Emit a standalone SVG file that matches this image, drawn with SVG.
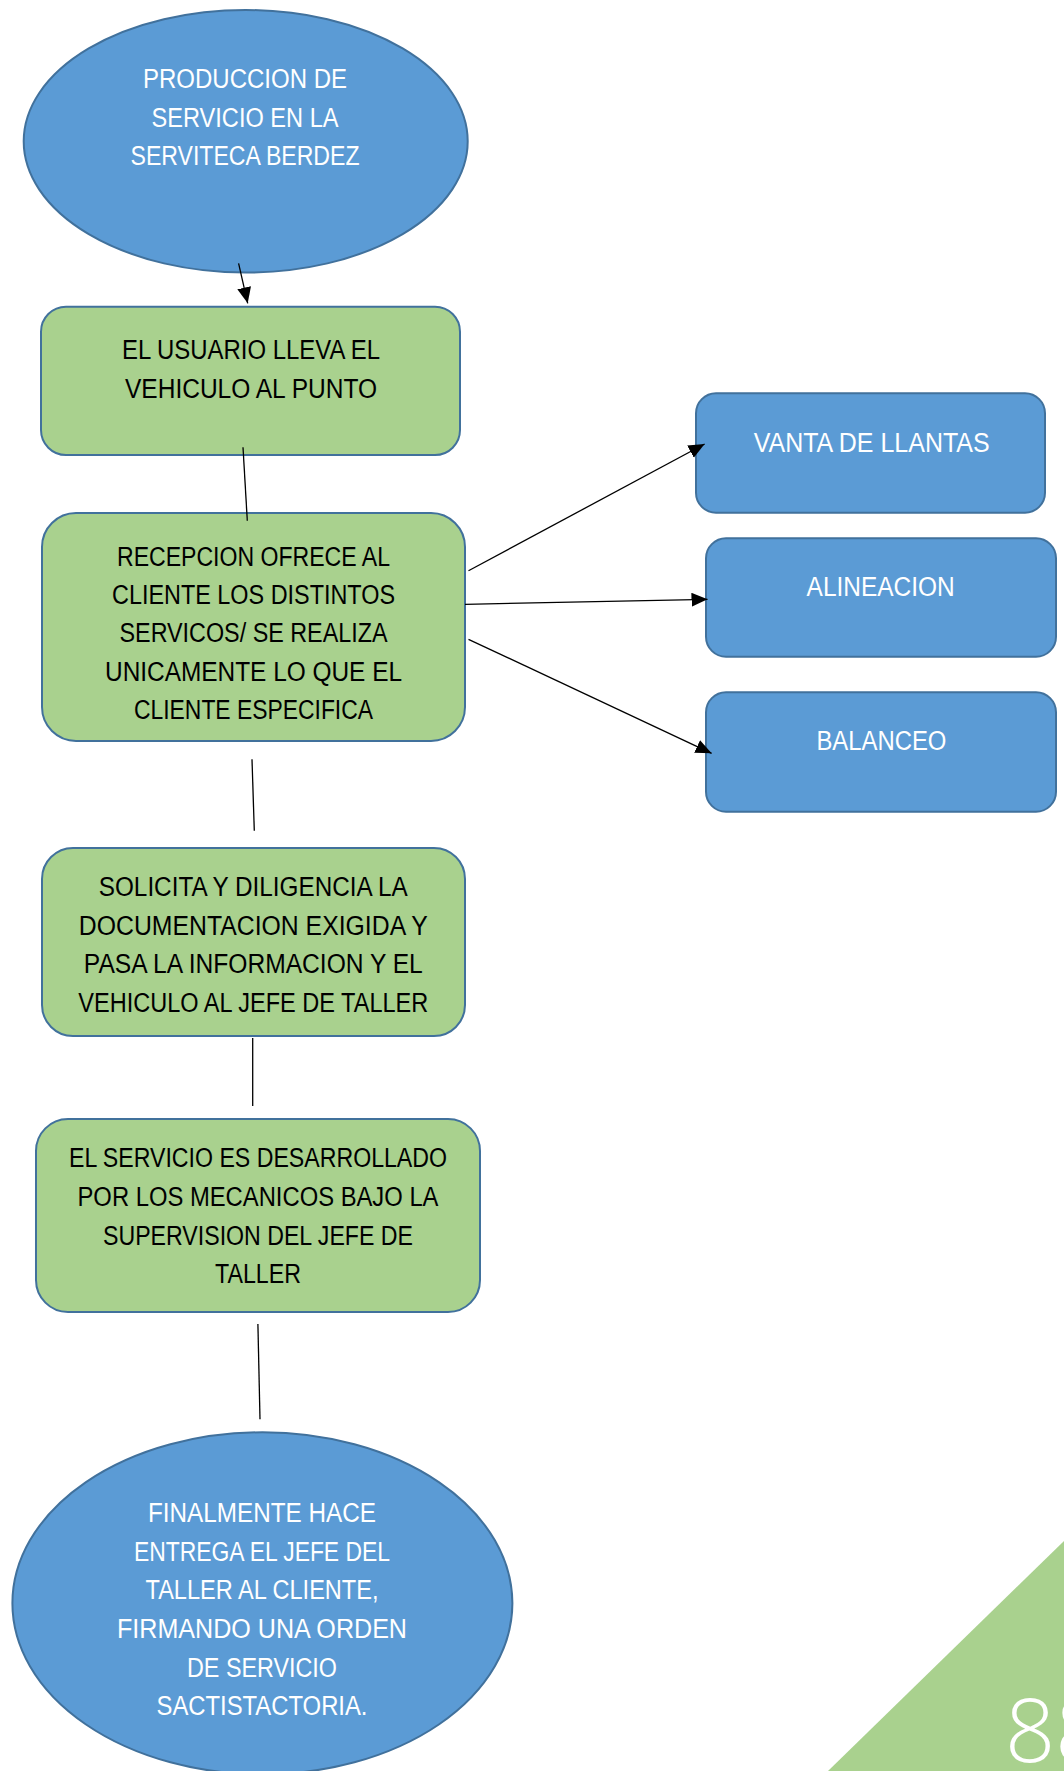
<svg xmlns="http://www.w3.org/2000/svg" width="1064" height="1771" viewBox="0 0 1064 1771">
<style>
.bg{fill:#FFFFFF}
.blue{fill:#5B9BD5;stroke:#41719C;stroke-width:2}
.green{fill:#A9D18E;stroke:#41719C;stroke-width:2}
.t{font-family:"Liberation Sans","Noto Sans",Arial,sans-serif;font-size:27px;text-anchor:middle}
.w{fill:#FFFFFF}
.k{fill:#000000}
.conn{stroke:#000000;stroke-width:1.3;fill:none}
.arr{marker-end:url(#ah)}
.page{fill:#FFFFFF;font-family:"Open Sans","Lato","Liberation Sans",sans-serif;font-weight:300;font-size:88px}
</style>
<defs>
<marker id="ah" markerUnits="userSpaceOnUse" markerWidth="17" markerHeight="15" refX="16" refY="7" orient="auto">
<path d="M0,0 L16,7 L0,14 z" fill="#000000"/>
</marker>
</defs>
<rect class="bg" x="0" y="0" width="1064" height="1771"/>

<g id="node-inicio">
<ellipse class="blue" cx="245.7" cy="141.3" rx="222" ry="131.3"/>
<text class="t w" x="245" y="88.3" textLength="204" lengthAdjust="spacingAndGlyphs">PRODUCCION DE</text>
<text class="t w" x="245" y="126.7" textLength="187" lengthAdjust="spacingAndGlyphs">SERVICIO EN LA</text>
<text class="t w" x="245" y="165" textLength="229" lengthAdjust="spacingAndGlyphs">SERVITECA BERDEZ</text>
</g>

<g id="node-usuario">
<rect class="green" x="41" y="306.7" width="419" height="148.3" rx="25" ry="25"/>
<text class="t k" x="251" y="359.3" textLength="258" lengthAdjust="spacingAndGlyphs">EL USUARIO LLEVA EL</text>
<text class="t k" x="251" y="398.3" textLength="252" lengthAdjust="spacingAndGlyphs">VEHICULO AL PUNTO</text>
</g>

<g id="node-recepcion">
<rect class="green" x="42" y="513" width="423" height="228" rx="34" ry="34"/>
<text class="t k" x="253.5" y="565.7" textLength="273" lengthAdjust="spacingAndGlyphs">RECEPCION OFRECE AL</text>
<text class="t k" x="253.5" y="603.5" textLength="283" lengthAdjust="spacingAndGlyphs">CLIENTE LOS DISTINTOS</text>
<text class="t k" x="253.5" y="642.3" textLength="268" lengthAdjust="spacingAndGlyphs">SERVICOS/ SE REALIZA</text>
<text class="t k" x="253.5" y="680.7" textLength="297" lengthAdjust="spacingAndGlyphs">UNICAMENTE LO QUE EL</text>
<text class="t k" x="253.5" y="719.3" textLength="239" lengthAdjust="spacingAndGlyphs">CLIENTE ESPECIFICA</text>
</g>

<g id="node-documentacion">
<rect class="green" x="42" y="848" width="423" height="188" rx="31" ry="31"/>
<text class="t k" x="253.3" y="896" textLength="309" lengthAdjust="spacingAndGlyphs">SOLICITA Y DILIGENCIA LA</text>
<text class="t k" x="253.3" y="935" textLength="349" lengthAdjust="spacingAndGlyphs">DOCUMENTACION EXIGIDA Y</text>
<text class="t k" x="253.3" y="973.3" textLength="339" lengthAdjust="spacingAndGlyphs">PASA LA INFORMACION Y EL</text>
<text class="t k" x="253.3" y="1012.3" textLength="350" lengthAdjust="spacingAndGlyphs">VEHICULO AL JEFE DE TALLER</text>
</g>

<g id="node-servicio">
<rect class="green" x="36" y="1119" width="444" height="193" rx="32" ry="32"/>
<text class="t k" x="258" y="1167.3" textLength="378" lengthAdjust="spacingAndGlyphs">EL SERVICIO ES DESARROLLADO</text>
<text class="t k" x="258" y="1206" textLength="361" lengthAdjust="spacingAndGlyphs">POR LOS MECANICOS BAJO LA</text>
<text class="t k" x="258" y="1245" textLength="310" lengthAdjust="spacingAndGlyphs">SUPERVISION DEL JEFE DE</text>
<text class="t k" x="258" y="1283.3" textLength="86" lengthAdjust="spacingAndGlyphs">TALLER</text>
</g>

<g id="node-entrega">
<ellipse class="blue" cx="262.4" cy="1603.3" rx="250" ry="171"/>
<text class="t w" x="262" y="1521.7" textLength="228" lengthAdjust="spacingAndGlyphs">FINALMENTE HACE</text>
<text class="t w" x="262" y="1560.7" textLength="256" lengthAdjust="spacingAndGlyphs">ENTREGA EL JEFE DEL</text>
<text class="t w" x="262" y="1599" textLength="233" lengthAdjust="spacingAndGlyphs">TALLER AL CLIENTE,</text>
<text class="t w" x="262" y="1637.7" textLength="290" lengthAdjust="spacingAndGlyphs">FIRMANDO UNA ORDEN</text>
<text class="t w" x="262" y="1676.7" textLength="150" lengthAdjust="spacingAndGlyphs">DE SERVICIO</text>
<text class="t w" x="262" y="1715" textLength="211" lengthAdjust="spacingAndGlyphs">SACTISTACTORIA.</text>
</g>

<g id="node-llantas">
<rect class="blue" x="696" y="393.3" width="349" height="119.4" rx="20" ry="20"/>
<text class="t w" x="871.7" y="451.7" textLength="236" lengthAdjust="spacingAndGlyphs">VANTA DE LLANTAS</text>
</g>

<g id="node-alineacion">
<rect class="blue" x="706" y="538.3" width="350" height="118.4" rx="20" ry="20"/>
<text class="t w" x="880.6" y="596" textLength="148" lengthAdjust="spacingAndGlyphs">ALINEACION</text>
</g>

<g id="node-balanceo">
<rect class="blue" x="706" y="692.3" width="350" height="119.4" rx="20" ry="20"/>
<text class="t w" x="881.4" y="750" textLength="130" lengthAdjust="spacingAndGlyphs">BALANCEO</text>
</g>

<g id="connectors">
<line class="conn arr" x1="238.6" y1="263.3" x2="247.7" y2="303.3"/>
<line class="conn" x1="243" y1="447.3" x2="247.3" y2="520.7"/>
<line class="conn arr" x1="468.5" y1="570.7" x2="704.6" y2="444"/>
<line class="conn arr" x1="465" y1="604.3" x2="707.5" y2="599.3"/>
<line class="conn arr" x1="468.5" y1="639.3" x2="711.6" y2="753.3"/>
<line class="conn" x1="252" y1="759.3" x2="254.3" y2="830.7"/>
<line class="conn" x1="252.7" y1="1038" x2="252.7" y2="1106"/>
<line class="conn" x1="257.9" y1="1324" x2="260" y2="1419.3"/>
</g>

<g id="page-corner">
<polygon points="1064,1541 1064,1771 828,1771" fill="#A9D18E"/>
<text class="page" x="1005" y="1762">88</text>
</g>
</svg>
